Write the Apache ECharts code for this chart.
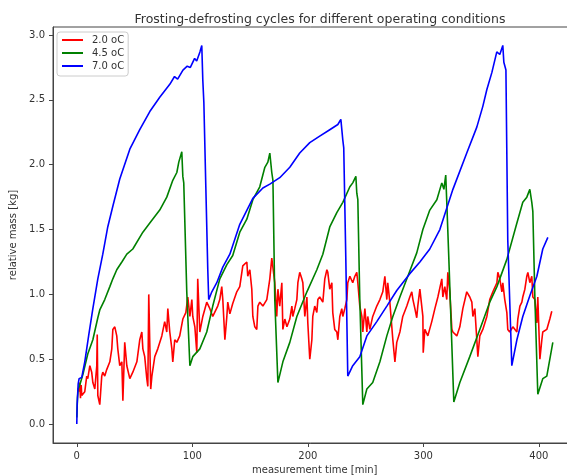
<!DOCTYPE html>
<html>
<head>
<meta charset="utf-8">
<script src="https://cdn.jsdelivr.net/npm/echarts@6/dist/echarts.min.js"></script>
<style>html,body{margin:0;padding:0;background:#fff;}#c{width:567px;height:475px;}</style>
</head>
<body>
<div id="c"></div>
<script>
const seriesNames = ['2.0 oC', '4.5 oC', '7.0 oC'];
const xTicks = [0, 100, 200, 300, 400];
const yTicks = [0, 0.5, 1.0, 1.5, 2.0, 2.5, 3.0];

// 2.0 oC
const redTime = [1.5,2.5,3.2,3.8,4.3,6.9,8.6,9.5,11.3,12.9,13.9,15.6,17.3,17.7,18.2,19.9,21.6,22.5,24.2,25.9,28.6,30.3,31.2,32.9,34.6,35.5,37.2,39.0,39.9,41.5,43.3,45.9,48.5,52.0,54.5,56.3,57.2,58.8,60.6,61.5,62.3,64.0,65.0,67.5,70.1,73.6,76.1,77.9,78.8,80.5,82.3,83.1,84.8,86.6,89.1,91.8,94.4,96.1,97.9,99.6,100.4,102.2,103.9,104.7,106.5,109.1,112.5,115.2,117.7,122.0,123.8,125.5,126.4,128.2,129.9,130.7,132.5,135.0,138.5,141.1,143.7,147.2,148.0,149.8,151.5,152.4,154.1,155.8,156.8,158.4,161.1,164.5,167.1,168.8,171.4,173.1,174.1,175.7,177.5,178.4,180.1,181.9,184.4,186.2,187.0,188.7,190.5,191.4,193.0,194.8,195.7,197.4,199.2,200.0,201.7,203.5,204.3,206.0,207.8,208.7,210.3,213.0,214.7,216.5,217.3,219.0,220.8,221.6,223.3,225.1,226.0,227.7,229.4,230.3,232.0,233.8,234.6,236.4,238.9,240.7,242.4,243.3,245.0,246.8,247.6,249.4,251.1,251.9,253.7,256.2,259.7,262.4,264.9,266.7,268.4,269.2,271.0,273.6,275.4,277.0,279.7,282.2,285.7,288.3,290.0,291.0,292.7,294.3,295.2,297.0,298.7,299.6,299.9,301.3,303.9,307.3,310.0,312.6,316.0,316.9,318.6,320.3,321.2,322.9,324.7,325.6,329.0,331.6,334.2,337.6,340.2,342.0,342.9,344.6,346.3,347.2,348.9,351.5,355.0,357.5,360.2,363.7,364.5,366.2,368.0,368.8,370.5,372.3,373.1,374.8,377.5,381.0,381.8,383.6,385.3,386.1,387.9,389.6,390.5,392.2,393.9,394.8,396.6,398.3,399.1,400.9,402.6,403.4,406.9,409.5,411.2];
const redMass = [0.25,0.32,0.2,0.3,0.22,0.25,0.37,0.35,0.45,0.40,0.32,0.27,0.45,0.69,0.22,0.15,0.37,0.40,0.37,0.42,0.48,0.58,0.73,0.75,0.68,0.58,0.45,0.48,0.18,0.63,0.45,0.35,0.40,0.48,0.65,0.71,0.58,0.52,0.35,0.29,1.00,0.27,0.37,0.52,0.58,0.68,0.79,0.71,0.89,0.71,0.58,0.48,0.65,0.63,0.68,0.81,0.86,0.98,0.83,0.96,0.83,0.75,0.55,1.12,0.71,0.83,0.94,0.89,0.83,0.91,0.96,1.06,0.96,0.65,0.83,0.94,0.85,0.93,1.02,1.06,1.22,1.25,1.14,1.19,1.04,0.83,0.75,0.73,0.91,0.94,0.91,0.96,1.12,1.28,1.09,0.83,1.04,0.91,1.09,0.73,0.81,0.75,0.81,0.91,0.83,0.89,0.96,1.09,1.17,1.12,1.09,0.83,0.98,0.78,0.50,0.65,0.83,0.91,0.86,0.96,0.98,0.94,1.12,1.19,1.17,1.04,1.09,0.86,0.73,0.71,0.65,0.83,0.89,0.83,0.89,0.96,1.09,1.14,1.09,1.14,1.17,1.09,0.91,0.83,0.71,0.89,0.71,0.83,0.73,0.83,0.91,0.96,1.02,1.14,0.96,1.09,0.94,0.65,0.48,0.63,0.71,0.83,0.91,0.98,1.02,0.96,0.89,0.82,0.91,1.04,1.05,0.83,0.55,0.73,0.68,0.79,0.89,0.98,1.12,0.98,1.06,0.96,1.17,1.02,0.73,0.71,0.68,0.75,0.89,1.02,0.98,0.94,0.83,0.89,0.65,0.52,0.68,0.73,0.83,0.96,1.02,1.09,1.17,1.12,1.02,1.09,0.96,0.86,0.73,0.71,0.75,0.71,0.81,0.91,0.94,0.98,1.04,1.14,1.17,1.09,1.14,0.98,0.96,0.78,0.98,0.50,0.65,0.71,0.73,0.81,0.87];

// 4.5 oC
const greenTime = [0,0.6,1.2,2.5,5.2,9.5,13.9,18.2,19.9,24.2,28.6,31.2,34.6,39.0,43.3,48.5,57.2,63.2,71.8,77.9,83.1,86.6,88.3,90.9,91.8,92.6,95.2,97.9,100.4,106.5,112.5,117.7,123.8,129.9,135.0,141.1,147.2,152.4,158.4,162.8,165.4,167.1,168.8,169.8,171.4,174.1,178.4,184.4,190.5,199.2,207.8,213.0,219.0,225.1,230.3,236.4,238.9,241.6,242.4,243.3,245.0,247.6,251.1,256.2,262.4,268.4,273.6,279.7,288.3,294.3,299.6,305.6,311.7,316.0,317.8,319.4,320.3,322.1,326.4,331.6,340.2,348.9,357.5,363.7,372.3,381.0,386.1,389.6,392.2,393.9,394.8,396.6,399.1,403.4,406.9,412.1];
const greenMass = [0.05,0.2,0.27,0.3,0.38,0.54,0.65,0.82,0.88,0.96,1.06,1.12,1.19,1.25,1.31,1.35,1.48,1.55,1.65,1.75,1.88,1.94,2.02,2.10,1.91,1.86,1.02,0.45,0.52,0.58,0.71,0.91,1.12,1.23,1.30,1.48,1.58,1.73,1.83,1.98,2.02,2.09,1.94,1.88,0.96,0.32,0.48,0.63,0.83,1.02,1.19,1.31,1.52,1.63,1.71,1.83,1.86,1.91,1.78,1.73,0.96,0.15,0.27,0.32,0.48,0.68,0.83,0.98,1.18,1.32,1.50,1.65,1.73,1.86,1.81,1.92,1.71,1.27,0.17,0.32,0.52,0.73,0.94,1.06,1.27,1.55,1.71,1.75,1.81,1.71,1.64,0.96,0.23,0.35,0.37,0.63];

// 7.0 oC
const blueTime = [0,0.3,1.2,2.0,2.6,4.3,6.9,10.4,13.9,18.2,22.5,26.8,31.2,37.2,45.9,54.5,63.2,71.8,80.5,84.6,87.3,91.9,95.6,98.3,102.0,103.8,106.6,108.2,109.1,110.0,111.7,113.4,114.2,116.9,121.2,126.4,132.5,141.1,152.4,161.1,167.1,175.7,184.4,193.0,201.7,210.3,219.0,226.0,228.6,230.3,231.1,232.9,234.6,238.9,245.0,251.1,259.7,268.4,277.0,282.2,288.3,297.0,305.6,314.3,325.6,337.6,346.3,351.5,355.0,359.3,363.6,366.2,368.8,369.7,371.5,373.1,376.6,381.0,386.1,392.2,398.3,403.4,407.8];
const blueMass = [0,0.15,0.31,0.35,0.34,0.36,0.48,0.69,0.89,1.12,1.31,1.52,1.68,1.89,2.12,2.27,2.41,2.52,2.62,2.68,2.66,2.73,2.76,2.75,2.82,2.80,2.87,2.92,2.65,2.48,1.83,1.19,0.96,1.02,1.09,1.21,1.31,1.54,1.74,1.82,1.85,1.90,1.98,2.09,2.17,2.22,2.27,2.31,2.35,2.19,2.13,1.27,0.37,0.45,0.52,0.68,0.79,0.91,1.03,1.09,1.16,1.25,1.35,1.50,1.81,2.09,2.29,2.45,2.58,2.71,2.87,2.85,2.92,2.79,2.73,1.42,0.45,0.65,0.83,0.99,1.14,1.35,1.44];

function zip(a, b) { return a.map((v, i) => [v, b[i]]); }

const chart = echarts.init(document.getElementById('c'), null, {renderer: 'canvas'});
const font = 'DejaVu Sans';
const axisColor = '#444';
chart.setOption({
  animation: false,
  backgroundColor: '#fff',
  title: {
    text: 'Frosting-defrosting cycles for different operating conditions',
    left: 315, top: 8, textAlign: 'center',
    textStyle: {fontFamily: font, fontSize: 12.5, fontWeight: 'normal', color: '#333'}
  },
  legend: {
    orient: 'vertical', left: 57, top: 32,
    backgroundColor: 'rgba(255,255,255,0.8)', borderColor: '#ccc', borderWidth: 1, borderRadius: 3,
    padding: [3, 4, 5, 5], itemGap: 3, itemWidth: 21, itemHeight: 2, icon: 'rect',
    textStyle: {fontFamily: font, fontSize: 10, color: '#333', padding: [0, 0, 0, 4]},
    data: seriesNames
  },
  grid: {left: 53, top: 27, bottom: 32, width: 523.5, show: true, borderColor: axisColor, borderWidth: 1,
    containLabel: false, outerBoundsMode: 'none'},
  xAxis: {
    type: 'value', min: -20.6, max: 432.6,
    name: 'measurement time [min]', nameLocation: 'middle', nameGap: 20,
    nameTextStyle: {fontFamily: font, fontSize: 10, color: '#333'},
    axisLine: {show: true, onZero: false, lineStyle: {color: axisColor}},
    axisTick: {show: true, length: 4, customValues: xTicks, lineStyle: {color: axisColor}},
    axisLabel: {customValues: xTicks, fontFamily: font, fontSize: 10, color: '#333', margin: 8},
    splitLine: {show: false}
  },
  yAxis: {
    type: 'value', min: -0.146, max: 3.062,
    name: 'relative mass [kg]', nameLocation: 'middle', nameGap: 35, nameRotate: 90,
    nameTextStyle: {fontFamily: font, fontSize: 10, color: '#333'},
    axisLine: {show: true, onZero: false, lineStyle: {color: axisColor}},
    axisTick: {show: true, length: 4, customValues: yTicks, lineStyle: {color: axisColor}},
    axisLabel: {customValues: yTicks, fontFamily: font, fontSize: 10, color: '#333', margin: 8,
      formatter: v => v.toFixed(1)},
    splitLine: {show: false}
  },
  series: [
    {name: seriesNames[0], type: 'line', symbol: 'none', data: zip(redTime, redMass),
      lineStyle: {color: '#ff0000', width: 1.6}, itemStyle: {color: '#ff0000'}},
    {name: seriesNames[1], type: 'line', symbol: 'none', data: zip(greenTime, greenMass),
      lineStyle: {color: '#008000', width: 1.6}, itemStyle: {color: '#008000'}},
    {name: seriesNames[2], type: 'line', symbol: 'none', data: zip(blueTime, blueMass),
      lineStyle: {color: '#0000ff', width: 1.6}, itemStyle: {color: '#0000ff'}}
  ]
});
</script>
</body>
</html>
